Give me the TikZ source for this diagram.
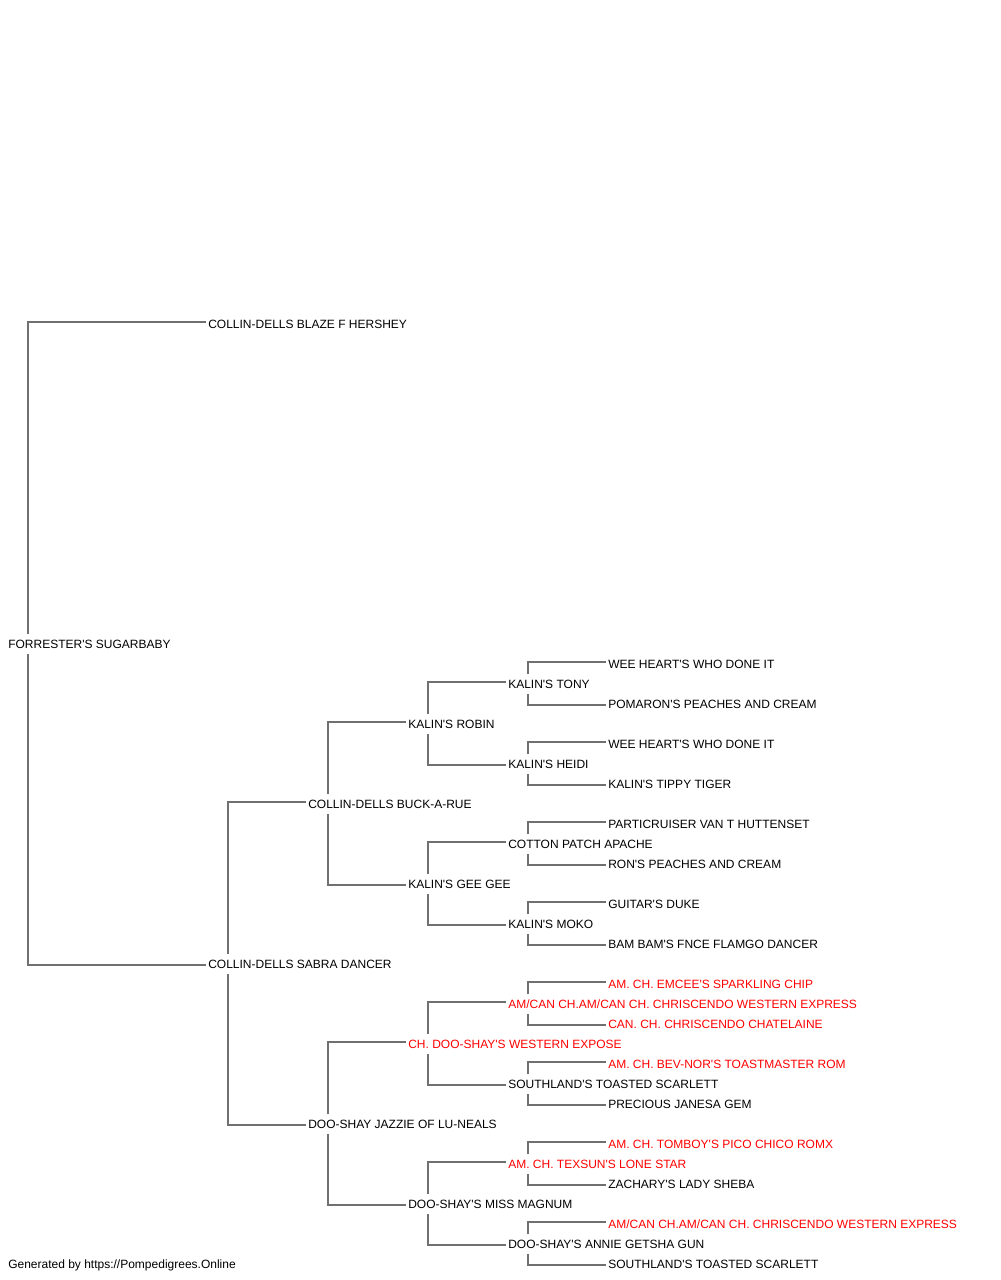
\documentclass[tikz,border=0pt]{standalone}
\usepackage{fontspec}
\newfontfamily\pedfont{Liberation Sans}
\definecolor{linegray}{RGB}{112,112,112}
\definecolor{chred}{RGB}{255,0,0}
\begin{document}
\begin{tikzpicture}[x=0.75pt,y=-0.75pt,
  nm/.style={anchor=west,inner sep=0pt,text height=6.45pt,text depth=0pt,font=\pedfont\fontsize{9pt}{11pt}\selectfont},
  ch/.style={nm,text=chred},
  link/.style={draw=linegray,line width=1pt}]
\useasboundingbox[fill=white] (0,0) rectangle (1000,1280);
% gen 1
\node[nm] (r) at (8,644) {FORRESTER'S SUGARBABY};
% gen 2
\node[nm] (s) at (208,324) {COLLIN-DELLS BLAZE F HERSHEY};
\node[nm] (d) at (208,964) {COLLIN-DELLS SABRA DANCER};
% gen 3
\node[nm] (ds) at (308,804) {COLLIN-DELLS BUCK-A-RUE};
\node[nm] (dd) at (308,1124) {DOO-SHAY JAZZIE OF LU-NEALS};
% gen 4
\node[nm] (dss) at (408,724) {KALIN'S ROBIN};
\node[nm] (dsd) at (408,884) {KALIN'S GEE GEE};
\node[ch] (dds) at (408,1044) {CH. DOO-SHAY'S WESTERN EXPOSE};
\node[nm] (ddd) at (408,1204) {DOO-SHAY'S MISS MAGNUM};
% gen 5
\node[nm] (dsss) at (508,684) {KALIN'S TONY};
\node[nm] (dssd) at (508,764) {KALIN'S HEIDI};
\node[nm] (dsds) at (508,844) {COTTON PATCH APACHE};
\node[nm] (dsdd) at (508,924) {KALIN'S MOKO};
\node[ch] (ddss) at (508,1004) {AM/CAN CH.AM/CAN CH. CHRISCENDO WESTERN EXPRESS};
\node[nm] (ddsd) at (508,1084) {SOUTHLAND'S TOASTED SCARLETT};
\node[ch] (ddds) at (508,1164) {AM. CH. TEXSUN'S LONE STAR};
\node[nm] (dddd) at (508,1244) {DOO-SHAY'S ANNIE GETSHA GUN};
% gen 6
\node[nm] (a1) at (608,664) {WEE HEART'S WHO DONE IT};
\node[nm] (a2) at (608,704) {POMARON'S PEACHES AND CREAM};
\node[nm] (a3) at (608,744) {WEE HEART'S WHO DONE IT};
\node[nm] (a4) at (608,784) {KALIN'S TIPPY TIGER};
\node[nm] (a5) at (608,824) {PARTICRUISER VAN T HUTTENSET};
\node[nm] (a6) at (608,864) {RON'S PEACHES AND CREAM};
\node[nm] (a7) at (608,904) {GUITAR'S DUKE};
\node[nm] (a8) at (608,944) {BAM BAM'S FNCE FLAMGO DANCER};
\node[ch] (a9) at (608,984) {AM. CH. EMCEE'S SPARKLING CHIP};
\node[ch] (a10) at (608,1024) {CAN. CH. CHRISCENDO CHATELAINE};
\node[ch] (a11) at (608,1064) {AM. CH. BEV-NOR'S TOASTMASTER ROM};
\node[nm] (a12) at (608,1104) {PRECIOUS JANESA GEM};
\node[ch] (a13) at (608,1144) {AM. CH. TOMBOY'S PICO CHICO ROMX};
\node[nm] (a14) at (608,1184) {ZACHARY'S LADY SHEBA};
\node[ch] (a15) at (608,1224) {AM/CAN CH.AM/CAN CH. CHRISCENDO WESTERN EXPRESS};
\node[nm] (a16) at (608,1264) {SOUTHLAND'S TOASTED SCARLETT};
% footer
\node[nm] (foot) at (8,1264) {Generated by https://Pompedigrees.Online};
% connectors: upper children
\foreach \p/\c in {r/s, d/ds, ds/dss, dd/dds, dss/dsss, dsd/dsds, dds/ddss, ddd/ddds,
  dsss/a1, dssd/a3, dsds/a5, dsdd/a7, ddss/a9, ddsd/a11, ddds/a13, dddd/a15}
  \draw[link] ([shift={(20,-10)}]\p.west) |- ([shift={(-2,-2)}]\c.west);
% connectors: lower children
\foreach \p/\c in {r/d, d/dd, ds/dsd, dd/ddd, dss/dssd, dsd/dsdd, dds/ddsd, ddd/dddd,
  dsss/a2, dssd/a4, dsds/a6, dsdd/a8, ddss/a10, ddsd/a12, ddds/a14, dddd/a16}
  \draw[link] ([shift={(20,10)}]\p.west) |- ([shift={(-2,1)}]\c.west);
\end{tikzpicture}
\end{document}
